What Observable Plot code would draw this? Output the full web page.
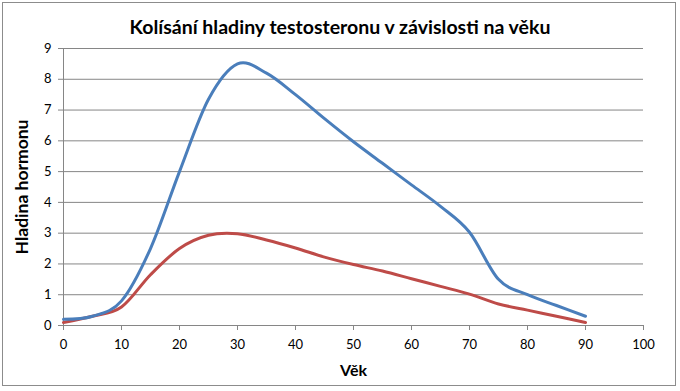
<!DOCTYPE html>
<html>
<head>
<meta charset="utf-8">
<script src="https://cdn.jsdelivr.net/npm/d3@7"></script>
<script src="https://cdn.jsdelivr.net/npm/@observablehq/plot@0.6"></script>
<style>
  html, body { margin: 0; padding: 0; background: #fff; }
  #chart { position: relative; width: 680px; height: 391px; overflow: hidden; background: #fff; }
  #frame { position: absolute; left: 2px; top: 2px; width: 674px; height: 384px; border: 1px solid #8c8c8c; box-sizing: border-box; }
  #title { position: absolute; left: 0; top: 0; width: 680px; height: 40px; line-height: 53px; text-align: center;
           font-family: Lato, "Open Sans", sans-serif; font-weight: bold; font-size: 19.5px; color: #000; }
  #plot { position: absolute; left: 0; top: 40px; }
</style>
</head>
<body>
<div id="chart">
  <div id="frame"></div>
  <div id="title">Kolísání hladiny testosteronu v závislosti na věku</div>
  <div id="plot"></div>
</div>
<script>
const xLabel = "Věk";
const yLabel = "Hladina hormonu";
const xTicks = [0, 10, 20, 30, 40, 50, 60, 70, 80, 90, 100];
const yTicks = [0, 1, 2, 3, 4, 5, 6, 7, 8, 9];

const ages       = [0, 5, 10, 15, 20, 25, 30, 35, 40, 45, 50, 55, 60, 65, 70, 75, 80, 85, 90];
const blueValues = [0.2, 0.3, 0.8, 2.5, 5.0, 7.35, 8.5, 8.2, 7.5, 6.72, 5.97, 5.27, 4.57, 3.87, 3.03, 1.5, 1.0, 0.65, 0.3];
const redValues  = [0.1, 0.3, 0.6, 1.65, 2.5, 2.93, 2.98, 2.78, 2.52, 2.22, 1.98, 1.77, 1.52, 1.27, 1.02, 0.7, 0.5, 0.3, 0.1];

const blue = ages.map((a, i) => ({age: a, value: blueValues[i]}));
const red = ages.map((a, i) => ({age: a, value: redValues[i]}));

const font = 'Lato, "Open Sans", sans-serif';

const chart = Plot.plot({
  width: 680,
  height: 351,
  marginLeft: 63,
  marginRight: 37,
  marginTop: 8,
  marginBottom: 66,
  style: {fontFamily: font, background: "transparent", overflow: "visible"},
  x: {domain: [0, 100], ticks: xTicks},
  y: {domain: [0, 9], ticks: yTicks},
  marks: [
    Plot.ruleY(yTicks.filter(d => d > 0), {stroke: "#868686", strokeWidth: 1}),
    Plot.ruleX([0], {stroke: "#868686", strokeWidth: 1}),
    Plot.ruleY([0], {stroke: "#868686", strokeWidth: 1}),
    Plot.axisY({ticks: yTicks, tickSize: 5, tickPadding: 7, label: null, stroke: "#868686", strokeOpacity: 1, fill: "#000", fontSize: 13}),
    Plot.axisX({ticks: xTicks, tickSize: 5, tickPadding: 9, label: null, stroke: "#868686", strokeOpacity: 1, fill: "#000", fontSize: 13}),
    Plot.line(red, {x: "age", y: "value", stroke: "#BE4B48", strokeWidth: 3, curve: "cardinal", tension: 0}),
    Plot.line(blue, {x: "age", y: "value", stroke: "#4A7EBB", strokeWidth: 3, curve: "cardinal", tension: 0}),
    Plot.text([yLabel], {frameAnchor: "left", textAnchor: "middle", dx: -41, rotate: -90, fontSize: 17.5, fontWeight: "bold", fill: "#000"}),
    Plot.text([xLabel], {frameAnchor: "bottom", textAnchor: "middle", dy: 50, fontSize: 16, fontWeight: "bold", fill: "#000"})
  ]
});
document.getElementById("plot").appendChild(chart);
</script>
</body>
</html>
